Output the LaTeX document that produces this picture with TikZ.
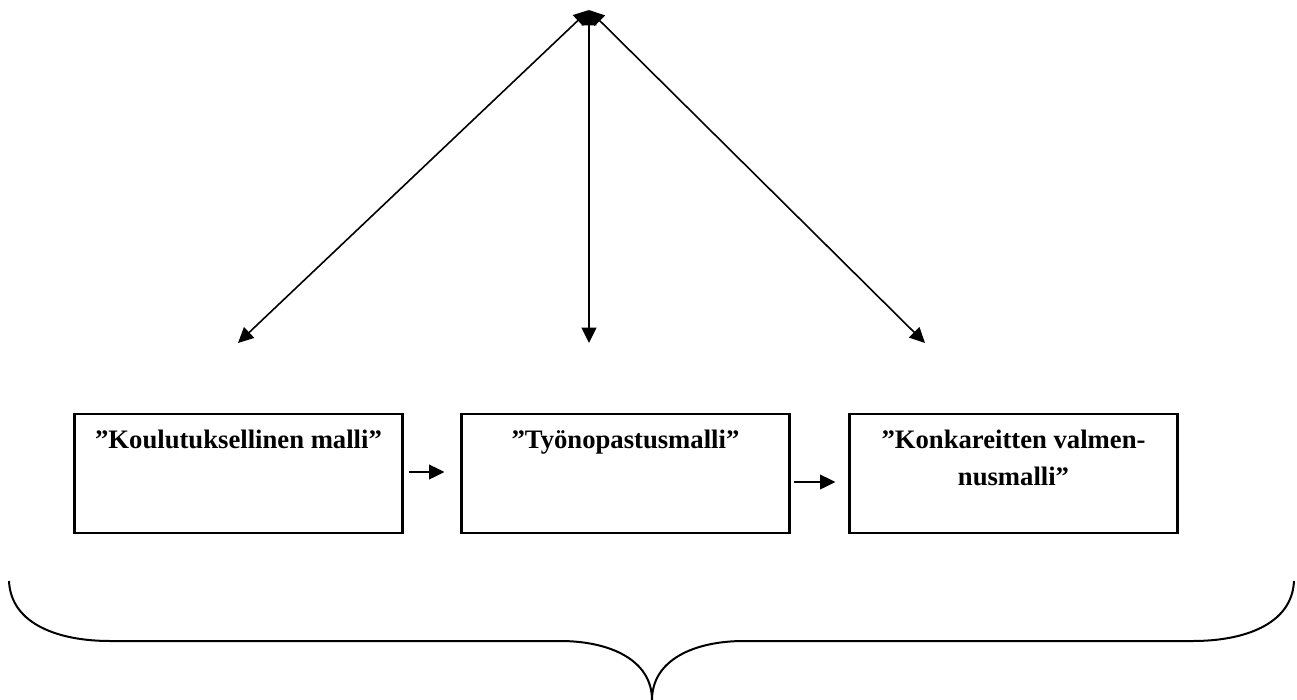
\documentclass[tikz,border=0pt]{standalone}
\usepackage{fontspec}
\setmainfont{Liberation Serif}
\usetikzlibrary{arrows.meta,calc}
\begin{document}
\begin{tikzpicture}[x=0.75pt,y=-0.75pt,
  tip/.tip={Triangle[length=11.5pt,width=11pt]},
  conn/.style={line width=1.2pt,-tip},
  twoway/.style={line width=1.2pt,tip-tip},
  modelbox/.style={draw,line width=1.6pt,minimum width=328*0.75pt,minimum height=119*0.75pt,inner sep=0pt},
  modeltext/.style={font=\fontsize{20}{27.75}\selectfont\bfseries,align=center,anchor=base,inner sep=0pt},
  brace/.style={line width=1.5pt}]
\useasboundingbox (0,0) rectangle (1297,700);

% common point at the top and the three free ends
\coordinate (apex) at (589,10);
\coordinate (endl) at (238,343);
\coordinate (endm) at (589,343);
\coordinate (endr) at (925,343);
\draw[twoway] (apex) -- (endl);
\draw[twoway] (apex) -- (endm);
\draw[twoway] (apex) -- (endr);

% the three models
\node[modelbox] (b1) at (238.5,473.5) {};
\node[modelbox] (b2) at (625.5,473.5) {};
\node[modelbox] (b3) at (1013.5,473.5) {};

% titles: the base anchor sits on the last line of a node
\node[modeltext] (t1) at ($(b1.north)+(0,36)$) {”Koulutuksellinen malli”};
\node[modeltext] (t2) at ($(b2.north)+(0,36)$) {”Työnopastusmalli”};
\node[modeltext] (t3) at ($(b3.north)+(0,73)$) {”Konkareitten valmen-\\nusmalli”};

% progression between the models
\draw[conn] ($(b1.east)+(5,-1.5)$) -- ($(b2.west)+(-16,-1.5)$);
\draw[conn] ($(b2.east)+(3,8.5)$) -- ($(b3.west)+(-13,8.5)$);

% brace under all three
\draw[brace] (9,581) .. controls (11,625) and (60,641) .. (110,641)
  -- (560,641) .. controls (610,641) and (652,660) .. (652,700);
\draw[brace] (1294,581) .. controls (1292,625) and (1243,641) .. (1193,641)
  -- (744,641) .. controls (694,641) and (652,660) .. (652,700);
\end{tikzpicture}
\end{document}
